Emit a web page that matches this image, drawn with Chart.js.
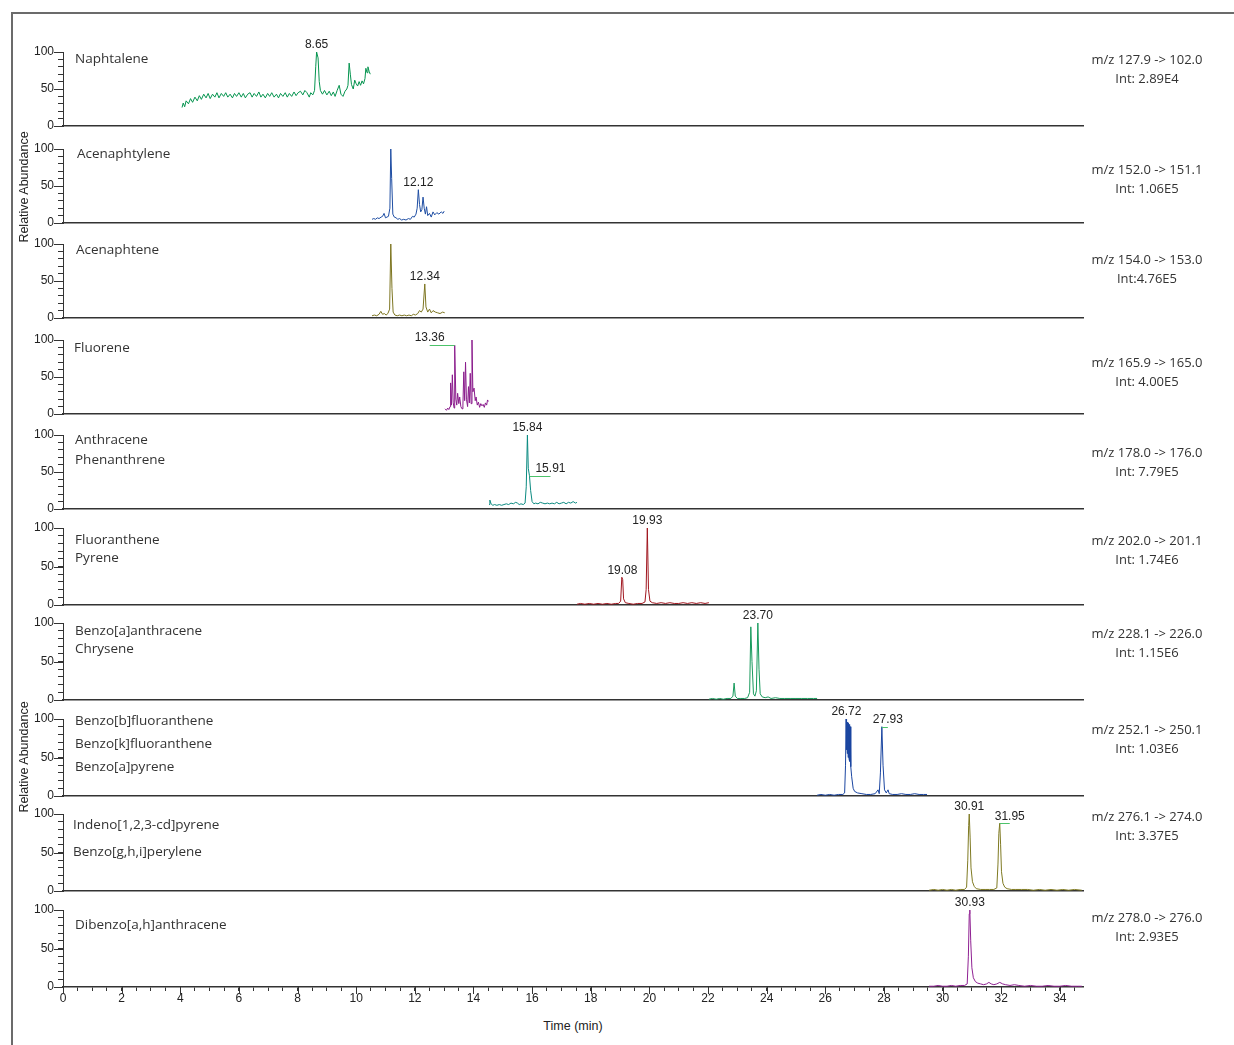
<!DOCTYPE html>
<html>
<head>
<meta charset="utf-8">
<script src="https://cdn.jsdelivr.net/npm/chart.js@4.4.1/dist/chart.umd.min.js"></script>
<style>
  body { margin: 0; background: #fff; width: 1234px; height: 1045px; overflow: hidden; position: relative; }
  #frame { position: absolute; left: 11px; top: 12px; width: 1240px; height: 1050px; border-left: 2px solid #6b6b6b; border-top: 2px solid #6b6b6b; }
  .name { position: absolute; font: 13.5px 'Open Sans', 'Noto Sans', sans-serif; color: #333; white-space: nowrap; line-height: 16px; }
  .side { position: absolute; width: 150px; text-align: center; font: 13px 'Open Sans', 'Noto Sans', sans-serif; color: #333; white-space: nowrap; line-height: 16px; }
  .ytitle { position: absolute; width: 160px; text-align: center; font: 12.5px 'Liberation Sans', Arial, sans-serif; color: #222; transform: rotate(-90deg); line-height: 14px; }
  #xtitle { position: absolute; left: 473px; top: 1019px; width: 200px; text-align: center; font: 12.5px 'Liberation Sans', Arial, sans-serif; color: #222; }
</style>
</head>
<body>
<div id="frame"></div>
<script>
// retention time (min) / relative abundance (%)
const naphTime = [4.06, 4.10, 4.15, 4.20, 4.28, 4.35, 4.42, 4.50, 4.58, 4.65, 4.72, 4.80, 4.88, 4.95, 5.02, 5.10, 5.18, 5.25, 5.32, 5.40, 5.48, 5.55, 5.62, 5.70, 5.78, 5.85, 5.92, 6.00, 6.08, 6.15, 6.22, 6.30, 6.38, 6.45, 6.52, 6.60, 6.68, 6.75, 6.82, 6.90, 6.98, 7.05, 7.12, 7.20, 7.28, 7.35, 7.42, 7.50, 7.58, 7.65, 7.72, 7.80, 7.88, 7.95, 8.02, 8.10, 8.18, 8.25, 8.32, 8.40, 8.45, 8.52, 8.58, 8.62, 8.65, 8.70, 8.74, 8.78, 8.85, 8.92, 9.00, 9.08, 9.15, 9.22, 9.28, 9.35, 9.42, 9.48, 9.55, 9.62, 9.68, 9.72, 9.76, 9.80, 9.84, 9.90, 9.95, 10.00, 10.05, 10.10, 10.15, 10.20, 10.25, 10.30, 10.33, 10.37, 10.40, 10.44, 10.48];
const naphAbund = [25, 31, 26, 34, 30, 37, 32, 39, 34, 41, 36, 43, 38, 44, 37, 43, 39, 45, 38, 44, 40, 45, 39, 43, 38, 44, 40, 45, 39, 44, 38, 43, 45, 39, 44, 40, 46, 39, 43, 38, 44, 40, 45, 39, 43, 38, 44, 40, 45, 39, 44, 40, 46, 41, 45, 47, 42, 48, 45, 39, 45, 42, 48, 80, 100, 92, 60, 48, 43, 48, 42, 47, 41, 46, 40, 48, 55, 43, 40, 47, 50, 55, 85, 70, 56, 50, 62, 57, 54, 60, 55, 61, 57, 64, 78, 72, 80, 74, 70];

const acylTime = [10.54, 10.60, 10.66, 10.72, 10.78, 10.85, 10.90, 10.95, 11.00, 11.05, 11.10, 11.15, 11.18, 11.21, 11.25, 11.30, 11.36, 11.42, 11.48, 11.55, 11.62, 11.70, 11.78, 11.85, 11.92, 11.98, 12.04, 12.08, 12.12, 12.16, 12.20, 12.24, 12.28, 12.32, 12.36, 12.40, 12.44, 12.50, 12.56, 12.62, 12.68, 12.75, 12.82, 12.90, 12.96, 13.00];
const acylAbund = [5, 6, 5, 7, 6, 8, 9, 13, 7, 8, 9, 20, 100, 60, 12, 8, 7, 5, 6, 4, 5, 4, 6, 5, 9, 8, 12, 20, 45, 25, 15, 18, 35, 20, 12, 22, 10, 13, 8, 15, 11, 14, 12, 15, 13, 16];

const aceTime = [10.54, 10.62, 10.70, 10.78, 10.84, 10.90, 10.96, 11.02, 11.08, 11.14, 11.18, 11.22, 11.26, 11.32, 11.40, 11.48, 11.56, 11.64, 11.72, 11.80, 11.88, 11.95, 12.02, 12.10, 12.16, 12.22, 12.28, 12.34, 12.38, 12.44, 12.50, 12.56, 12.62, 12.70, 12.78, 12.86, 12.95, 13.02];
const aceAbund = [3, 4, 3, 5, 9, 5, 6, 4, 6, 12, 100, 40, 8, 4, 3, 4, 3, 4, 3, 4, 3, 5, 4, 6, 10, 8, 12, 46, 15, 8, 12, 7, 10, 8, 7, 6, 8, 7];

const fluoTime = [13.03, 13.08, 13.12, 13.16, 13.20, 13.22, 13.25, 13.28, 13.31, 13.34, 13.36, 13.40, 13.43, 13.46, 13.50, 13.53, 13.57, 13.61, 13.64, 13.67, 13.70, 13.73, 13.76, 13.80, 13.83, 13.86, 13.89, 13.92, 13.95, 13.98, 14.02, 14.06, 14.09, 14.13, 14.17, 14.21, 14.25, 14.29, 14.33, 14.37, 14.41, 14.45, 14.48, 14.51];
const fluoAbund = [7, 5, 8, 6, 10, 42, 12, 53, 15, 8, 93, 20, 12, 28, 14, 23, 10, 7, 12, 57, 18, 70, 20, 10, 37, 15, 55, 14, 100, 30, 35, 18, 23, 12, 16, 9, 14, 11, 13, 9, 15, 12, 19, 17];

const anthTime = [14.53, 14.56, 14.60, 14.66, 14.72, 14.80, 14.88, 14.96, 15.04, 15.12, 15.20, 15.28, 15.36, 15.44, 15.50, 15.56, 15.62, 15.70, 15.76, 15.80, 15.84, 15.87, 15.91, 15.95, 16.00, 16.06, 16.12, 16.20, 16.28, 16.36, 16.44, 16.52, 16.60, 16.68, 16.76, 16.84, 16.92, 17.00, 17.08, 17.16, 17.24, 17.32, 17.40, 17.48, 17.53];
const anthAbund = [6, 12, 7, 5, 6, 5, 6, 5, 6, 7, 6, 8, 7, 9, 8, 6, 7, 6, 8, 30, 100, 55, 45, 25, 10, 7, 8, 7, 9, 8, 7, 8, 7, 8, 7, 9, 7, 8, 9, 7, 9, 8, 10, 8, 9];

const flaTime = [17.53, 17.65, 17.80, 17.95, 18.10, 18.25, 18.40, 18.55, 18.70, 18.85, 18.95, 19.02, 19.06, 19.09, 19.12, 19.18, 19.30, 19.45, 19.60, 19.75, 19.85, 19.89, 19.93, 19.97, 20.02, 20.10, 20.25, 20.40, 20.55, 20.70, 20.85, 21.00, 21.15, 21.30, 21.45, 21.60, 21.75, 21.90, 22.03];
const flaAbund = [1, 2, 1, 2, 1, 2, 1, 2, 1, 2, 2, 5, 36, 33, 8, 3, 2, 1, 2, 2, 4, 20, 100, 20, 5, 3, 2, 3, 2, 3, 2, 2, 3, 2, 3, 2, 3, 2, 3];

const baaTime = [22.03, 22.15, 22.28, 22.40, 22.52, 22.65, 22.78, 22.85, 22.89, 22.93, 23.00, 23.12, 23.25, 23.35, 23.42, 23.46, 23.50, 23.55, 23.60, 23.65, 23.70, 23.74, 23.78, 23.85, 23.95, 24.05, 24.15, 24.30, 24.45, 24.60, 24.80, 25.00, 25.20, 25.40, 25.60, 25.72];
const baaAbund = [1, 2, 1, 2, 1, 2, 2, 5, 22, 5, 2, 2, 2, 3, 10, 95, 50, 8, 5, 12, 100, 40, 8, 4, 3, 4, 2, 3, 2, 2, 2, 2, 2, 2, 2, 2];

const bbfTime = [25.72, 25.85, 26.00, 26.15, 26.30, 26.45, 26.60, 26.66, 26.69, 26.71, 26.72, 26.73, 26.75, 26.76, 26.78, 26.79, 26.81, 26.82, 26.84, 26.85, 26.87, 26.90, 26.95, 27.00, 27.10, 27.25, 27.40, 27.55, 27.70, 27.80, 27.84, 27.88, 27.93, 27.97, 28.02, 28.08, 28.14, 28.18, 28.30, 28.45, 28.60, 28.75, 28.90, 29.05, 29.20, 29.35, 29.47];
const bbfAbund = [1, 2, 1, 2, 1, 2, 2, 4, 40, 100, 60, 98, 55, 96, 50, 95, 48, 93, 45, 90, 38, 25, 10, 6, 4, 3, 2, 2, 3, 8, 3, 30, 90, 40, 8, 4, 8, 3, 2, 2, 3, 2, 2, 3, 2, 2, 2];

const indTime = [29.54, 29.70, 29.85, 30.00, 30.15, 30.30, 30.45, 30.60, 30.75, 30.82, 30.86, 30.89, 30.91, 30.94, 30.97, 31.02, 31.08, 31.15, 31.30, 31.45, 31.60, 31.75, 31.85, 31.89, 31.92, 31.95, 31.98, 32.01, 32.06, 32.12, 32.20, 32.35, 32.50, 32.70, 32.90, 33.10, 33.30, 33.50, 33.70, 33.90, 34.10, 34.30, 34.50, 34.75];
const indAbund = [1, 2, 1, 2, 1, 2, 1, 2, 2, 5, 40, 85, 100, 70, 30, 12, 6, 3, 2, 2, 2, 2, 4, 35, 75, 88, 60, 25, 10, 5, 3, 2, 2, 2, 2, 1, 2, 1, 2, 1, 2, 1, 2, 1];

const dbaTime = [29.54, 29.70, 29.85, 30.00, 30.15, 30.30, 30.45, 30.60, 30.75, 30.84, 30.88, 30.91, 30.93, 30.96, 31.00, 31.05, 31.12, 31.20, 31.30, 31.40, 31.50, 31.58, 31.66, 31.75, 31.85, 31.95, 32.05, 32.15, 32.30, 32.45, 32.60, 32.80, 33.00, 33.20, 33.40, 33.60, 33.80, 34.00, 34.20, 34.40, 34.60, 34.75];
const dbaAbund = [1, 1, 2, 1, 1, 2, 1, 2, 2, 4, 40, 95, 100, 60, 25, 12, 7, 5, 4, 3, 4, 6, 4, 3, 4, 6, 4, 3, 2, 3, 2, 1, 2, 1, 1, 2, 1, 1, 2, 1, 1, 1];

// labelled peaks: [time, abundance]
const naphPeaks = [[8.65, 100]];
const acylPeaks = [[12.12, 45]];
const acePeaks = [[12.34, 46]];
const fluoPeaks = [[13.36, 93]];
const anthPeaks = [[15.84, 100], [15.91, 45]];
const flaPeaks = [[19.93, 100], [19.08, 36]];
const baaPeaks = [[23.70, 100]];
const bbfPeaks = [[26.72, 100], [27.93, 90]];
const indPeaks = [[30.91, 100], [31.95, 88]];
const dbaPeaks = [[30.93, 100]];

const compoundNames = [
  ['Naphtalene'],
  ['Acenaphtylene'],
  ['Acenaphtene'],
  ['Fluorene'],
  ['Anthracene', 'Phenanthrene'],
  ['Fluoranthene', 'Pyrene'],
  ['Benzo[a]anthracene', 'Chrysene'],
  ['Benzo[b]fluoranthene', 'Benzo[k]fluoranthene', 'Benzo[a]pyrene'],
  ['Indeno[1,2,3-cd]pyrene', 'Benzo[g,h,i]perylene'],
  ['Dibenzo[a,h]anthracene'],
];
const transitions = ['m/z 127.9 -> 102.0', 'm/z 152.0 -> 151.1', 'm/z 154.0 -> 153.0', 'm/z 165.9 -> 165.0', 'm/z 178.0 -> 176.0', 'm/z 202.0 -> 201.1', 'm/z 228.1 -> 226.0', 'm/z 252.1 -> 250.1', 'm/z 276.1 -> 274.0', 'm/z 278.0 -> 276.0'];
const intensities = ['Int: 2.89E4', 'Int: 1.06E5', 'Int:4.76E5', 'Int: 4.00E5', 'Int: 7.79E5', 'Int: 1.74E6', 'Int: 1.15E6', 'Int: 1.03E6', 'Int: 3.37E5', 'Int: 2.93E5'];

const timeMax = 34.79;

// layout of the stacked panels (pixel positions only)
const panels = [
  { t: naphTime, v: naphAbund, peaks: naphPeaks, shift: [0], color: '#05944f', base: 126, h: 74, nameX: 75, nameY: [58], sideY: 59 },
  { t: acylTime, v: acylAbund, peaks: acylPeaks, shift: [0], color: '#1f4ea3', base: 223, h: 74, nameX: 77, nameY: [153], sideY: 169 },
  { t: aceTime, v: aceAbund, peaks: acePeaks, shift: [0], color: '#7d7520', base: 318, h: 74, nameX: 76, nameY: [249], sideY: 259 },
  { t: fluoTime, v: fluoAbund, peaks: fluoPeaks, shift: [-25], color: '#8a1c8c', base: 414, h: 74, nameX: 74, nameY: [347], sideY: 362 },
  { t: anthTime, v: anthAbund, peaks: anthPeaks, shift: [0, 21], color: '#0a8a80', base: 509, h: 74, nameX: 75, nameY: [439, 459], sideY: 452 },
  { t: flaTime, v: flaAbund, peaks: flaPeaks, shift: [0, 0], color: '#a0161f', base: 605, h: 77, nameX: 75, nameY: [539, 557], sideY: 540 },
  { t: baaTime, v: baaAbund, peaks: baaPeaks, shift: [0], color: '#179a5c', base: 700, h: 77, nameX: 75, nameY: [630, 648], sideY: 633 },
  { t: bbfTime, v: bbfAbund, peaks: bbfPeaks, shift: [0, 6], color: '#1a45a0', base: 796, h: 77, nameX: 75, nameY: [720, 743, 766], sideY: 729 },
  { t: indTime, v: indAbund, peaks: indPeaks, shift: [0, 10], color: '#7f7a22', base: 891, h: 77, nameX: 73, nameY: [824, 851], sideY: 816 },
  { t: dbaTime, v: dbaAbund, peaks: dbaPeaks, shift: [0], color: '#8f2092', base: 987, h: 77, nameX: 75, nameY: [924], sideY: 917 },
];

Chart.defaults.font.family = "'Liberation Sans', Arial, sans-serif";
Chart.defaults.font.size = 12;
Chart.defaults.color = '#222';

const peakLabels = {
  id: 'peakLabels',
  afterDatasetsDraw(chart, args, opts) {
    const { ctx } = chart;
    const xs = chart.scales.x;
    const ys = chart.scales.y;
    ctx.save();
    ctx.font = "12px 'Liberation Sans', Arial, sans-serif";
    ctx.fillStyle = '#222';
    ctx.textAlign = 'center';
    ctx.textBaseline = 'bottom';
    (opts.peaks || []).forEach((p) => {
      const px = xs.getPixelForValue(p.t);
      const py = ys.getPixelForValue(p.v);
      if (p.shift) {
        ctx.strokeStyle = '#4cc36a';
        ctx.lineWidth = 1;
        ctx.beginPath();
        ctx.moveTo(px, Math.round(py) + 0.5);
        ctx.lineTo(px + p.shift, Math.round(py) + 0.5);
        ctx.stroke();
      }
      ctx.fillText(p.t.toFixed(2), px + p.shift, py - 1);
    });
    ctx.restore();
  },
};

// longer ticks at 0/50/100 and at every 2 min
const majorTicks = {
  id: 'majorTicks',
  afterDraw(chart, args, opts) {
    const { ctx, chartArea } = chart;
    ctx.save();
    ctx.strokeStyle = '#333';
    ctx.lineWidth = 1;
    [0, 50, 100].forEach((v) => {
      const y = Math.round(chart.scales.y.getPixelForValue(v)) + 0.5;
      ctx.beginPath();
      ctx.moveTo(chartArea.left - 9, y);
      ctx.lineTo(chartArea.left, y);
      ctx.stroke();
    });
    if (opts.xMajor) {
      for (let t = 0; t <= 34; t += 2) {
        const x = Math.round(chart.scales.x.getPixelForValue(t)) + 0.5;
        ctx.beginPath();
        ctx.moveTo(x, chartArea.bottom);
        ctx.lineTo(x, chartArea.bottom + 7);
        ctx.stroke();
      }
    }
    ctx.restore();
  },
};

const padTop = 22;

panels.forEach((p, i) => {
  const last = i === panels.length - 1;
  // room below the plot area: tick labels on the last panel, a blank strip elsewhere
  const xh = last ? 30 : 20;
  const canvasH = padTop + p.h + xh;

  const cv = document.createElement('canvas');
  cv.width = 1234;
  cv.height = canvasH;
  cv.style.cssText = `position:absolute;left:0;top:${p.base - p.h - padTop}px;width:1234px;height:${canvasH}px`;
  document.body.appendChild(cv);

  new Chart(cv, {
    type: 'line',
    data: {
      datasets: [
        {
          data: p.t.map((t, k) => ({ x: t, y: p.v[k] })),
          borderColor: p.color,
          borderWidth: 1,
          pointRadius: 0,
          tension: 0,
          fill: false,
        },
      ],
    },
    options: {
      responsive: false,
      animation: false,
      events: [],
      layout: { padding: { top: padTop, right: 151, left: 0, bottom: 0 } },
      plugins: {
        legend: { display: false },
        tooltip: { enabled: false },
        peakLabels: { peaks: p.peaks.map((pk, k) => ({ t: pk[0], v: pk[1], shift: p.shift[k] })) },
        majorTicks: { xMajor: last },
      },
      scales: {
        x: {
          type: 'linear',
          min: 0,
          max: timeMax,
          grid: { drawOnChartArea: false, drawTicks: last, tickLength: 4, color: '#333' },
          border: { display: true, color: '#333', width: 1.5 },
          ticks: {
            display: last,
            stepSize: 0.5,
            autoSkip: false,
            maxRotation: 0,
            includeBounds: false,
            padding: 0,
            color: '#222',
            callback: (v) => (Math.abs(v % 2) < 1e-6 ? String(v) : ''),
          },
          afterFit: (s) => { s.height = xh; },
        },
        y: {
          min: 0,
          max: 100,
          grid: { drawOnChartArea: false, tickLength: 5, color: '#333' },
          border: { display: true, color: '#333', width: 1 },
          ticks: {
            stepSize: 10,
            autoSkip: false,
            includeBounds: false,
            padding: 4,
            color: '#222',
            callback: (v) => (v % 50 === 0 ? String(v) : ''),
          },
          afterFit: (s) => { s.width = 63; },
        },
      },
    },
    plugins: [peakLabels, majorTicks],
  });

  compoundNames[i].forEach((name, k) => {
    const d = document.createElement('div');
    d.className = 'name';
    d.textContent = name;
    d.style.left = p.nameX + 'px';
    d.style.top = (p.nameY[k] - 8) + 'px';
    document.body.appendChild(d);
  });

  [transitions[i], intensities[i]].forEach((txt, k) => {
    const d = document.createElement('div');
    d.className = 'side';
    d.textContent = txt;
    d.style.left = (1147 - 75) + 'px';
    d.style.top = (p.sideY - 8 + k * 19) + 'px';
    document.body.appendChild(d);
  });
});

[187, 757].forEach((cy) => {
  const d = document.createElement('div');
  d.className = 'ytitle';
  d.textContent = 'Relative Abundance';
  d.style.left = (24 - 80) + 'px';
  d.style.top = (cy - 7) + 'px';
  document.body.appendChild(d);
});

const xt = document.createElement('div');
xt.id = 'xtitle';
xt.textContent = 'Time (min)';
document.body.appendChild(xt);
</script>
</body>
</html>
